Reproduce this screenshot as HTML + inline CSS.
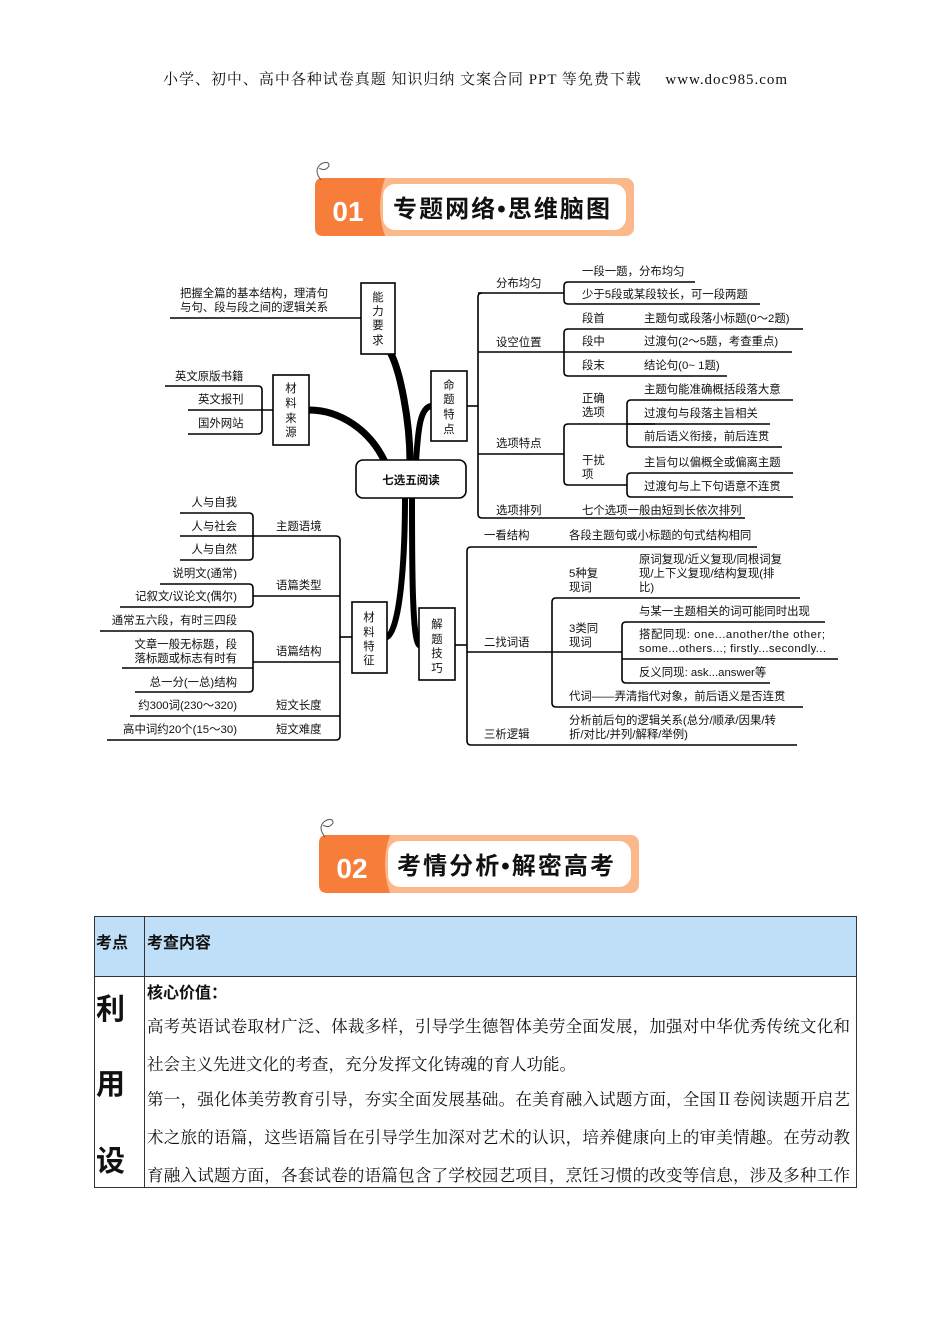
<!DOCTYPE html>
<html><head><meta charset="utf-8">
<style>
html,body{margin:0;padding:0;background:#fff;}
svg{display:block;}
.s{font-family:"Liberation Sans","Noto Sans CJK SC",sans-serif;font-size:11.4px;fill:#111;}
.se{font-family:"Liberation Serif","Noto Serif CJK SC",serif;}
</style></head><body>
<svg width="950" height="1344" viewBox="0 0 950 1344" xmlns="http://www.w3.org/2000/svg">
<text x="475" y="84" text-anchor="middle" class="se" font-size="15" fill="#111" textLength="624">小学、初中、高中各种试卷真题 知识归纳 文案合同 PPT 等免费下载 &#160;&#160;&#160;&#160;www.doc985.com</text>

<!-- banner 01 -->
<g>
<rect x="315" y="178" width="319" height="58" rx="8" fill="#fbb88a"/>
<path d="M323,178 H385 Q375,207 385,236 H323 Q315,236 315,228 V186 Q315,178 323,178Z" fill="#f77e3a"/>
<rect x="383" y="184" width="243" height="46" rx="12" fill="#fff"/>
<text x="348" y="221" text-anchor="middle" font-family="Liberation Sans,sans-serif" font-weight="bold" font-size="28" fill="#fff">01</text>
<text x="393" y="217" font-family="Liberation Sans,Noto Sans CJK SC,sans-serif" font-weight="bold" font-size="24" fill="#111" textLength="217">专题网络•思维脑图</text>
<path d="M321,180 q-8,-10 0,-16 q8,-4 8,2 q-4,6 -10,2" fill="none" stroke="#555" stroke-width="1"/>
</g>
<!-- banner 02 -->
<g>
<rect x="319" y="835" width="320" height="58" rx="8" fill="#fbb88a"/>
<path d="M327,835 H390 Q380,864 390,893 H327 Q319,893 319,885 V843 Q319,835 327,835Z" fill="#f77e3a"/>
<rect x="388" y="841" width="243" height="46" rx="12" fill="#fff"/>
<text x="352" y="878" text-anchor="middle" font-family="Liberation Sans,sans-serif" font-weight="bold" font-size="28" fill="#fff">02</text>
<text x="397" y="874" font-family="Liberation Sans,Noto Sans CJK SC,sans-serif" font-weight="bold" font-size="24" fill="#111" textLength="217">考情分析•解密高考</text>
<path d="M325,837 q-8,-10 0,-16 q8,-4 8,2 q-4,6 -10,2" fill="none" stroke="#555" stroke-width="1"/>
</g>

<!-- thick curves -->
<g fill="none" stroke="#000" stroke-linecap="round">
<path d="M410,462 C410,420 400,370 390,352" stroke-width="7"/>
<path d="M385,462 C370,430 340,410 309,410" stroke-width="7"/>
<path d="M416,462 C418,430 420,408 431,406" stroke-width="6"/>
<path d="M405,497 C405,560 400,630 387,637" stroke-width="6"/>
<path d="M412,497 C412,560 412,640 419,645" stroke-width="6"/>
</g>

<g fill="none" stroke="#000" stroke-width="1.6">
<path d="M170,318 H361"/>
<path d="M165,386 H258 q4,0 4,4 V430 q0,4 -4,4 H188"/>
<path d="M188,410 H273"/>
<path d="M467,406 H478"/>
<path d="M482,293 q-4,0 -4,4 V514 q0,4 4,4 H745"/>
<path d="M478,293 H564"/>
<path d="M695,282 H568 q-4,0 -4,4 V300 q0,4 4,4 H760"/>
<path d="M478,352 H792"/>
<path d="M803,329 H568 q-4,0 -4,4 V372 q0,4 4,4 H727"/>
<path d="M478,454 H564"/>
<path d="M655,424 H568 q-4,0 -4,4 V481 q0,4 4,4 H627"/>
<path d="M793,400 H631 q-4,0 -4,4 V443 q0,4 4,4 H782"/>
<path d="M627,424 H770"/>
<path d="M793,473 H631 q-4,0 -4,4 V493 q0,4 4,4 H793"/>
<path d="M455,645 H467"/>
<path d="M757,547 H471 q-4,0 -4,4 V741 q0,4 4,4 H797"/>
<path d="M467,652 H552"/>
<path d="M800,598 H556 q-4,0 -4,4 V703 q0,4 4,4 H803"/>
<path d="M552,652 H622"/>
<path d="M825,622 H626 q-4,0 -4,4 V679 q0,4 4,4 H770"/>
<path d="M622,659 H838"/>
<path d="M340,637 H352"/>
<path d="M252,536 H336 q4,0 4,4 V736 q0,4 -4,4 H107"/>
<path d="M180,513 H249 q4,0 4,4 V556 q0,4 -4,4 H180"/>
<path d="M180,536 H253"/>
<path d="M253,596 H340"/>
<path d="M160,584 H249 q4,0 4,4 V603 q0,4 -4,4 H120"/>
<path d="M253,662 H340"/>
<path d="M100,631 H249 q4,0 4,4 V688 q0,4 -4,4 H135"/>
<path d="M122,668 H253"/>
<path d="M130,716 H340"/>
</g>

<g fill="#fff" stroke="#000" stroke-width="1.6">
<rect x="356" y="460" width="110" height="38" rx="7"/>
<rect x="361" y="283" width="34" height="71"/>
<rect x="273" y="375" width="36" height="70"/>
<rect x="431" y="371" width="36" height="70"/>
<rect x="352" y="602" width="35" height="71"/>
<rect x="419" y="608" width="36" height="72"/>
</g>

<g class="s">
<text x="411" y="484" text-anchor="middle" font-weight="bold" font-size="11.5">七选五阅读</text>
<g text-anchor="middle">
<text x="378" y="301">能</text><text x="378" y="315">力</text><text x="378" y="329">要</text><text x="378" y="344">求</text>
<text x="291" y="392">材</text><text x="291" y="407">料</text><text x="291" y="422">来</text><text x="291" y="436">源</text>
<text x="449" y="389">命</text><text x="449" y="403">题</text><text x="449" y="418">特</text><text x="449" y="433">点</text>
<text x="369" y="621">材</text><text x="369" y="636">料</text><text x="369" y="650">特</text><text x="369" y="664">征</text>
<text x="437" y="628">解</text><text x="437" y="643">题</text><text x="437" y="657">技</text><text x="437" y="672">巧</text>
</g>
<text x="180" y="297">把握全篇的基本结构，理清句</text>
<text x="180" y="311">与句、段与段之间的逻辑关系</text>
<text x="175" y="380">英文原版书籍</text>
<text x="198" y="403">英文报刊</text>
<text x="198" y="427">国外网站</text>

<text x="496" y="287">分布均匀</text>
<text x="582" y="275">一段一题，分布均匀</text>
<text x="582" y="298">少于5段或某段较长，可一段两题</text>
<text x="496" y="346">设空位置</text>
<text x="582" y="322">段首</text><text x="644" y="322">主题句或段落小标题(0～2题)</text>
<text x="582" y="345">段中</text><text x="644" y="345">过渡句(2～5题，考查重点)</text>
<text x="582" y="369">段末</text><text x="644" y="369">结论句(0~ 1题)</text>
<text x="496" y="447">选项特点</text>
<text x="582" y="402">正确</text><text x="582" y="416">选项</text>
<text x="644" y="393">主题句能准确概括段落大意</text>
<text x="644" y="417">过渡句与段落主旨相关</text>
<text x="644" y="440">前后语义衔接，前后连贯</text>
<text x="582" y="464">干扰</text><text x="582" y="478">项</text>
<text x="644" y="466">主旨句以偏概全或偏离主题</text>
<text x="644" y="490">过渡句与上下句语意不连贯</text>
<text x="496" y="514">选项排列</text>
<text x="582" y="514">七个选项一般由短到长依次排列</text>

<text x="484" y="539">一看结构</text>
<text x="569" y="539">各段主题句或小标题的句式结构相同</text>
<text x="484" y="646">二找词语</text>
<text x="569" y="577">5种复</text><text x="569" y="591">现词</text>
<text x="639" y="563">原词复现/近义复现/同根词复</text>
<text x="639" y="577">现/上下义复现/结构复现(排</text>
<text x="639" y="591">比)</text>
<text x="569" y="632">3类同</text><text x="569" y="646">现词</text>
<text x="639" y="615">与某一主题相关的词可能同时出现</text>
<text x="639" y="638" textLength="186">搭配同现: one...another/the other;</text>
<text x="639" y="652" textLength="187">some...others...; firstly...secondly...</text>
<text x="639" y="676">反义同现: ask...answer等</text>
<text x="569" y="700">代词——弄清指代对象，前后语义是否连贯</text>
<text x="484" y="738">三析逻辑</text>
<text x="569" y="724">分析前后句的逻辑关系(总分/顺承/因果/转</text>
<text x="569" y="738">折/对比/并列/解释/举例)</text>

<g text-anchor="end">
<text x="237" y="506">人与自我</text>
<text x="237" y="530">人与社会</text>
<text x="237" y="553">人与自然</text>
<text x="237" y="577">说明文(通常)</text>
<text x="237" y="600">记叙文/议论文(偶尔)</text>
<text x="237" y="624">通常五六段，有时三四段</text>
<text x="237" y="648">文章一般无标题，段</text>
<text x="237" y="662">落标题或标志有时有</text>
<text x="237" y="686">总一分(一总)结构</text>
<text x="237" y="709">约300词(230～320)</text>
<text x="237" y="733">高中词约20个(15～30)</text>
</g>
<text x="276" y="530">主题语境</text>
<text x="276" y="589">语篇类型</text>
<text x="276" y="655">语篇结构</text>
<text x="276" y="709">短文长度</text>
<text x="276" y="733">短文难度</text>
</g>

<rect x="94.5" y="916.5" width="762" height="60" fill="#bfdff8" stroke="#333" stroke-width="1"/>
<rect x="94.5" y="976.5" width="762" height="211" fill="#fff" stroke="#333" stroke-width="1"/>
<line x1="144.5" y1="916" x2="144.5" y2="1188" stroke="#333" stroke-width="1"/>
<g font-family="Liberation Sans,Noto Sans CJK SC,sans-serif" fill="#111">
<text x="96" y="948" font-size="16" font-weight="bold">考点</text>
<text x="147" y="948" font-size="16" font-weight="bold">考查内容</text>
<text x="147" y="998" font-size="16" font-weight="bold">核心价值：</text>
<text x="96" y="1019" font-size="29" font-weight="bold">利</text>
<text x="96" y="1094" font-size="29" font-weight="bold">用</text>
<text x="96" y="1171" font-size="29" font-weight="bold">设</text>
</g>
<g class="se" font-size="16.5" fill="#111">
<text x="147" y="1032" textLength="703">高考英语试卷取材广泛、体裁多样，引导学生德智体美劳全面发展，加强对中华优秀传统文化和</text>
<text x="147" y="1070">社会主义先进文化的考查，充分发挥文化铸魂的育人功能。</text>
<text x="147" y="1105" textLength="703">第一，强化体美劳教育引导，夯实全面发展基础。在美育融入试题方面，全国Ⅱ卷阅读题开启艺</text>
<text x="147" y="1143" textLength="703">术之旅的语篇，这些语篇旨在引导学生加深对艺术的认识，培养健康向上的审美情趣。在劳动教</text>
<text x="147" y="1181" textLength="703">育融入试题方面，各套试卷的语篇包含了学校园艺项目，烹饪习惯的改变等信息，涉及多种工作</text>
</g>
</svg>
</body></html>
